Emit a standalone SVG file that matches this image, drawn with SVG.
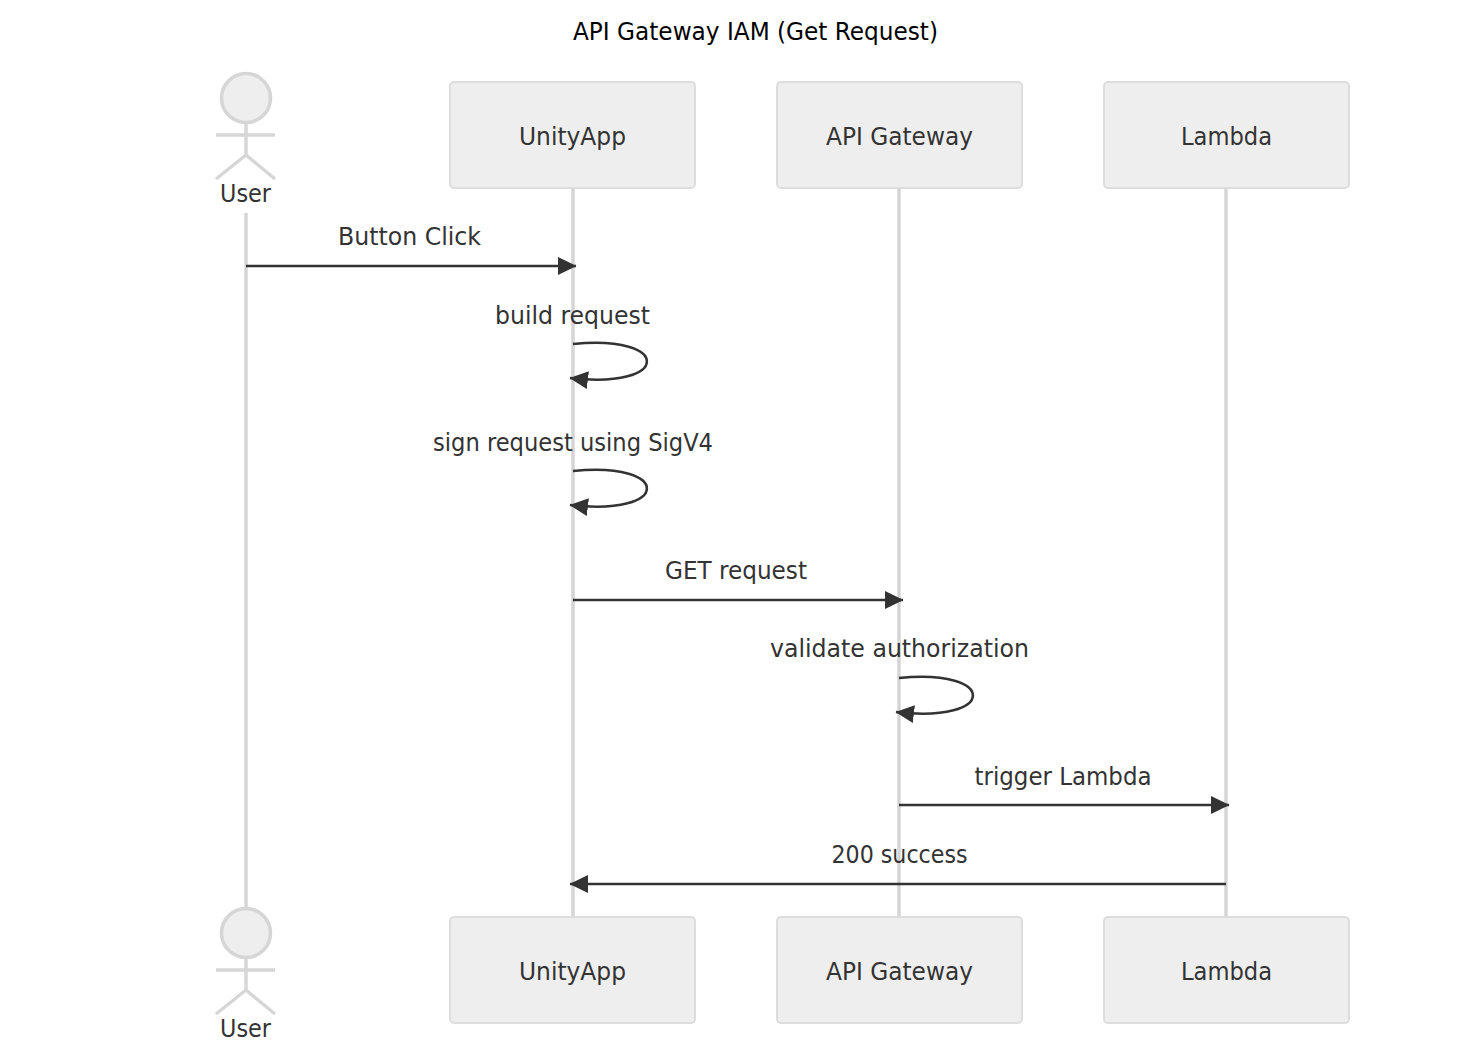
<svg xmlns="http://www.w3.org/2000/svg" width="1473" height="1042" viewBox="0 0 1473 1042">
<style>
text{font-family:"DejaVu Sans Condensed","DejaVu Sans",sans-serif;font-stretch:condensed;fill:#333;font-size:25px;text-anchor:middle}
.t{fill:#000}
.box{fill:#eee;stroke:#ddd;stroke-width:2}
.life{stroke:#d4d4d4;stroke-width:3.4;fill:none}
.act{fill:none;stroke:#d6d6d6;stroke-width:3.4}
.head{fill:#eee;stroke:#d6d6d6;stroke-width:3.6}
.msg{stroke:#333;stroke-width:2.6;fill:none;marker-end:url(#a)}
</style>
<defs><marker id="a" markerUnits="userSpaceOnUse" markerWidth="22" markerHeight="20" refX="18" refY="9" orient="auto"><path d="M0 0L18.500 9L0 18z" fill="#333"/></marker></defs>
<rect width="1473" height="1042" fill="#fff"/>
<text class="t" x="755.500" y="40" textLength="365" lengthAdjust="spacingAndGlyphs">API Gateway IAM (Get Request)</text>
<g id="lifelines"><path class="life" d="M246 213V907M573 188V917M899 188V917M1226 188V917"/></g>
<g id="connectors">
<path class="msg" d="M573 344C672 334 672 390 570 378"/>
<path class="msg" d="M573 471C672 461 672 517 570 505"/>
<path class="msg" d="M899 678C998 668 998 724 896 712"/>
<path class="msg" d="M246 266H576"/>
<path class="msg" d="M573 600H903"/>
<path class="msg" d="M899 805H1229"/>
<path class="msg" d="M1226 884H570"/>
</g>
<g id="labels">
<text x="409.500" y="245" textLength="143" lengthAdjust="spacingAndGlyphs">Button Click</text><text x="572.500" y="324" textLength="155" lengthAdjust="spacingAndGlyphs">build request</text><text x="573" y="451" textLength="280" lengthAdjust="spacingAndGlyphs">sign request using SigV4</text><text x="736" y="579" textLength="142" lengthAdjust="spacingAndGlyphs">GET request</text><text x="899.500" y="657" textLength="259" lengthAdjust="spacingAndGlyphs">validate authorization</text><text x="1063" y="785" textLength="177" lengthAdjust="spacingAndGlyphs">trigger Lambda</text><text x="899.500" y="863" textLength="136" lengthAdjust="spacingAndGlyphs">200 success</text>
</g>
<g id="user-top"><circle class="head" cx="246" cy="98" r="24.5"/><path class="act" d="M246 123V155M216 135H275M246 155L216 179M246 155L275 179"/><text x="245.500" y="202" textLength="51" lengthAdjust="spacingAndGlyphs">User</text></g>
<g id="unity-top"><rect class="box" x="450" y="82" width="245" height="106" rx="4"/><text x="572.500" y="145" textLength="107" lengthAdjust="spacingAndGlyphs">UnityApp</text></g>
<g id="api-top"><rect class="box" x="777" y="82" width="245" height="106" rx="4"/><text x="899.500" y="145" textLength="147" lengthAdjust="spacingAndGlyphs">API Gateway</text></g>
<g id="lambda-top"><rect class="box" x="1104" y="82" width="245" height="106" rx="4"/><text x="1226.500" y="145" textLength="91" lengthAdjust="spacingAndGlyphs">Lambda</text></g>
<g id="user-bottom"><circle class="head" cx="246" cy="933" r="24.5"/><path class="act" d="M246 958V990M216 970H275M246 990L216 1014M246 990L275 1014"/><text x="245.500" y="1037" textLength="51" lengthAdjust="spacingAndGlyphs">User</text></g>
<g id="unity-bottom"><rect class="box" x="450" y="917" width="245" height="106" rx="4"/><text x="572.500" y="980" textLength="107" lengthAdjust="spacingAndGlyphs">UnityApp</text></g>
<g id="api-bottom"><rect class="box" x="777" y="917" width="245" height="106" rx="4"/><text x="899.500" y="980" textLength="147" lengthAdjust="spacingAndGlyphs">API Gateway</text></g>
<g id="lambda-bottom"><rect class="box" x="1104" y="917" width="245" height="106" rx="4"/><text x="1226.500" y="980" textLength="91" lengthAdjust="spacingAndGlyphs">Lambda</text></g>
</svg>
